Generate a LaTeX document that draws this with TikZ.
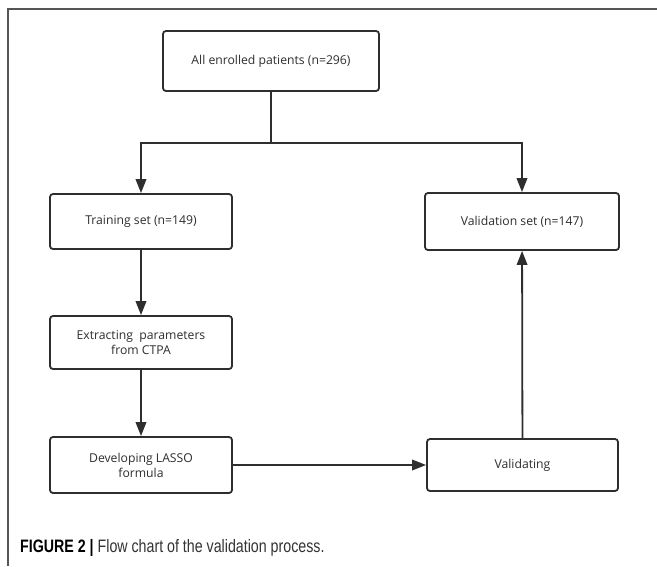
\documentclass[tikz,border=0pt]{standalone}
\usepackage{fontspec}
\setmainfont{Open Sans}
\newfontfamily\capfont{Liberation Sans}
\usetikzlibrary{arrows.meta}
\definecolor{ink}{HTML}{2E2E2E}
\definecolor{framegray}{HTML}{555555}
\definecolor{captext}{HTML}{333333}
\begin{document}
\begin{tikzpicture}[x=1pt,y=1pt,
  flowbox/.style={draw=ink, line width=1.8pt, rounded corners=3pt, align=center,
    text=ink, font=\fontsize{12.2}{15}\selectfont, inner sep=0pt},
  flowarrow/.style={draw=ink, line width=1.8pt, -{Triangle[length=14pt,width=10.5pt]}},
  flowline/.style={draw=ink, line width=1.8pt}]
\useasboundingbox (0,0) rectangle (657,-566);
\fill[white] (0,0) rectangle (657,-566);
% frame
\draw[framegray, line width=1.3pt] (8,-566) -- (8,-9) -- (657,-9);
% nodes
\node[flowbox, minimum width=216pt, minimum height=60pt] (all) at (271,-61) {All enrolled patients (n=296)};
\node[flowbox, minimum width=182pt, minimum height=55pt] (train) at (141,-221.5) {Training set (n=149)};
\node[flowbox, minimum width=194pt, minimum height=57pt] (val) at (522,-221.5) {Validation set (n=147)};
\node[flowbox, minimum width=182pt, minimum height=53pt] (extract) at (141,-342.5) {Extracting \ parameters\\from CTPA};
\node[flowbox, minimum width=182pt, minimum height=56pt] (dev) at (141,-465) {Developing LASSO\\formula};
\node[flowbox, minimum width=191pt, minimum height=52pt] (valid) at (522.5,-465) {Validating};
% connectors
\coordinate (j) at (271,-143);
\draw[flowline] (all.south) -- (j);
\draw[flowarrow] (j) -| (train.north);
\draw[flowarrow] (j) -| (val.north);
\draw[flowarrow] (train) -- (extract);
\draw[flowarrow] (extract) -- (dev);
\draw[flowarrow] (dev) -- (valid);
\draw[flowarrow] (valid) -- (val);
% caption
\node[anchor=base west, inner sep=0pt, text=captext] (cap) at (20,-552)
  {\capfont\fontsize{18}{20}\selectfont\scalebox{0.79}[1]{\textcolor{black}{\textbf{FIGURE 2 |}} Flow chart of the validation process.}};
\end{tikzpicture}
\end{document}
